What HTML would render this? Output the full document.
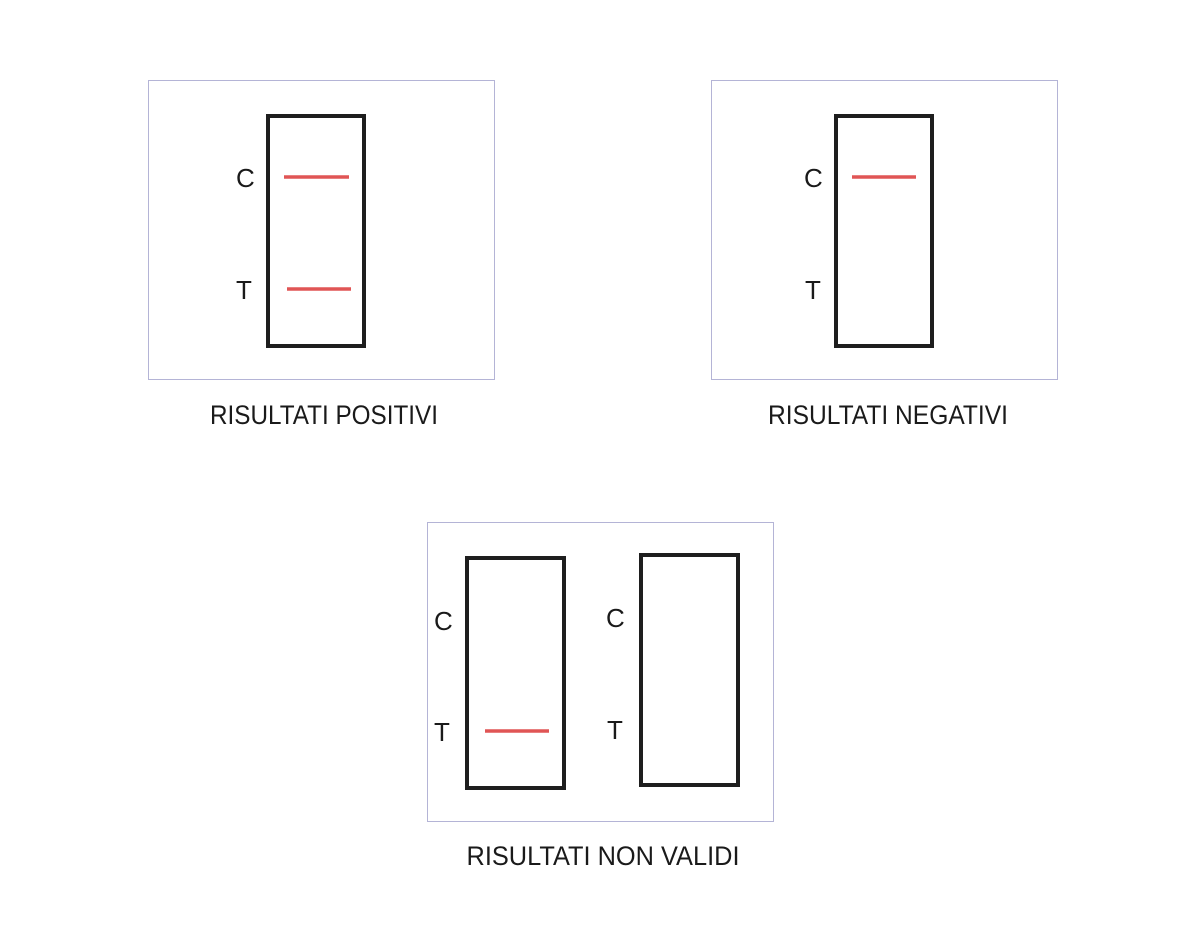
<!DOCTYPE html>
<html><head><style>
body{margin:0;background:#fff;}
svg text{font-family:"Liberation Sans",sans-serif;fill:#1a1a1a;}
</style></head><body>
<svg width="1200" height="940" viewBox="0 0 1200 940" xmlns="http://www.w3.org/2000/svg">
<rect width="1200" height="940" fill="#fff"/>
<g fill="none" stroke="#b4b4d6" stroke-width="1">
<rect x="148.5" y="80.5" width="346" height="299"/>
<rect x="711.5" y="80.5" width="346" height="299"/>
<rect x="427.5" y="522.5" width="346" height="299"/>
</g>
<g fill="none" stroke="#1e1e1e" stroke-width="4">
<rect x="268" y="116" width="96" height="230"/>
<rect x="836" y="116" width="96" height="230"/>
<rect x="467" y="558" width="97" height="230"/>
<rect x="641" y="555" width="97" height="230"/>
</g>
<g stroke="#e05555" stroke-width="3.5">
<line x1="284" y1="177" x2="349" y2="177"/>
<line x1="287" y1="289" x2="351" y2="289"/>
<line x1="852" y1="177" x2="916" y2="177"/>
<line x1="485" y1="731" x2="549" y2="731"/>
</g>
<g font-size="26">
<text x="236" y="187">C</text><text x="236" y="299">T</text>
<text x="804" y="187">C</text><text x="805" y="299">T</text>
<text x="434" y="630">C</text><text x="434" y="741">T</text>
<text x="606" y="627">C</text><text x="607" y="739">T</text>
</g>
<g font-size="27" text-anchor="middle">
<text x="324" y="424" textLength="228" lengthAdjust="spacingAndGlyphs">RISULTATI POSITIVI</text>
<text x="888" y="424" textLength="240" lengthAdjust="spacingAndGlyphs">RISULTATI NEGATIVI</text>
<text x="603" y="865" textLength="273" lengthAdjust="spacingAndGlyphs">RISULTATI NON VALIDI</text>
</g>
</svg>
</body></html>
